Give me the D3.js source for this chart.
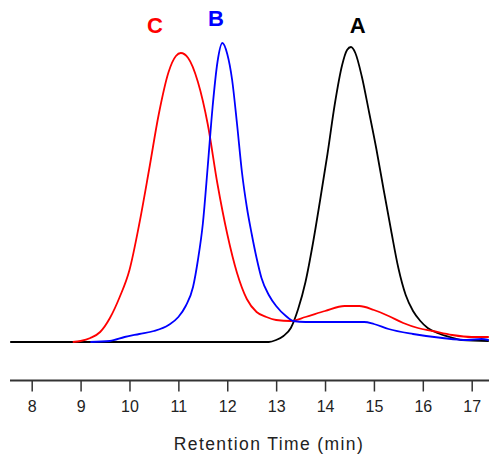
<!DOCTYPE html>
<html>
<head>
<meta charset="utf-8">
<script src="https://cdn.jsdelivr.net/npm/d3@7/dist/d3.min.js"></script>
<style>
  html, body { margin: 0; padding: 0; background: #fff; }
  svg { display: block; }
</style>
</head>
<body>
<svg id="chart" width="489" height="454"></svg>
<script>
// ---- data (retention time in min, detector response in arbitrary units) ----
const tickLabels = [8, 9, 10, 11, 12, 13, 14, 15, 16, 17];

const timeA = [7.56, 12.85, 13.0, 13.15, 13.3, 13.45, 13.6, 13.75, 13.9, 14.05, 14.2, 14.35, 14.45, 14.53, 14.62, 14.75, 14.9, 15.05, 15.2, 15.35, 15.5, 15.65, 15.8, 15.95, 16.1, 16.3, 16.55, 16.8, 17.35];
const valueA = [0, 0, 2, 6, 14, 33, 60, 98, 142, 188, 238, 277, 292, 295, 289, 266, 230, 193, 152, 112, 74, 47, 31, 21, 14, 9, 5, 2, 1];

const timeB = [9.2, 9.6, 9.9, 10.2, 10.5, 10.8, 11.0, 11.15, 11.3, 11.4, 11.5, 11.6, 11.7, 11.8, 11.9, 12.0, 12.1, 12.2, 12.3, 12.4, 12.5, 12.6, 12.7, 12.85, 13.0, 13.2, 13.35, 13.6, 14.0, 14.8, 15.0, 15.3, 15.8, 16.4, 16.9, 17.2, 17.35];
const valueB = [0, 1, 5, 8, 11, 17, 25, 36, 55, 82, 118, 175, 235, 280, 299, 288, 262, 218, 170, 135, 108, 84, 64, 47, 36, 26, 21, 20, 20, 20, 18, 13, 8, 4, 2, 3, 2];

const timeC = [8.84, 9.0, 9.2, 9.4, 9.6, 9.8, 10.0, 10.2, 10.4, 10.6, 10.8, 10.95, 11.05, 11.2, 11.4, 11.6, 11.8, 12.0, 12.2, 12.4, 12.6, 12.8, 13.0, 13.3, 13.6, 14.0, 14.4, 14.7, 15.0, 15.3, 15.6, 15.9, 16.2, 16.6, 17.0, 17.35];
const valueC = [0, 1, 4, 10, 24, 45, 72, 118, 172, 228, 270, 286, 289, 284, 260, 218, 158, 108, 69, 43, 30, 25, 22, 21, 25, 31, 36, 36, 32, 26, 19, 14, 11, 7, 5, 5];

const seriesNames = ["A", "B", "C"];
const seriesColors = ["#000000", "#0000ff", "#ff0000"];
const labelTimes = [14.67, 11.77, 10.52];
const labelValues = [309, 316, 309];

const xTitle = "Retention Time (min)";

// ---- drawing ----
const svg = d3.select("#chart");

const x = d3.scaleLinear().domain([8, 17]).range([31.7, 471.7]);
const y = d3.scaleLinear().domain([0, 300]).range([342, 42]);

const series = [
  { name: "C", t: timeC, v: valueC },
  { name: "B", t: timeB, v: valueB },
  { name: "A", t: timeA, v: valueA }
];

const line = d3.line()
  .x(d => x(d[0]))
  .y(d => y(d[1]))
  .curve(d3.curveMonotoneX);

const order = ["A", "C", "B"];
order.forEach(n => {
  const s = series.find(d => d.name === n);
  const idx = seriesNames.indexOf(n);
  svg.append("path")
    .datum(s.t.map((t, i) => [t, s.v[i]]))
    .attr("fill", "none")
    .attr("stroke", seriesColors[idx])
    .attr("stroke-width", 1.8)
    .attr("stroke-linejoin", "round")
    .attr("d", line);
});

// peak labels
seriesNames.forEach((n, i) => {
  svg.append("text")
    .attr("x", x(labelTimes[i]))
    .attr("y", y(labelValues[i]))
    .attr("text-anchor", "middle")
    .attr("font-family", "'Liberation Sans', Arial, sans-serif")
    .attr("font-weight", "bold")
    .attr("font-size", 22)
    .attr("fill", seriesColors[i])
    .text(n);
});

// x axis
const axisG = svg.append("g").attr("transform", "translate(0,380.5)");
const axis = d3.axisBottom(x)
  .tickValues(tickLabels)
  .tickSize(11)
  .tickPadding(9)
  .tickFormat(d3.format("d"));
axisG.call(axis);
axisG.select(".domain").remove();
axisG.append("line")
  .attr("x1", 10).attr("x2", 489)
  .attr("y1", 0).attr("y2", 0)
  .attr("stroke", "#333").attr("stroke-width", 2);
axisG.selectAll(".tick line").attr("stroke", "#333").attr("stroke-width", 1.5);
axisG.selectAll(".tick text")
  .attr("font-family", "'Liberation Sans', Arial, sans-serif")
  .attr("font-size", 16)
  .attr("fill", "#222");

svg.append("text")
  .attr("x", 269)
  .attr("y", 450)
  .attr("text-anchor", "middle")
  .attr("font-family", "'Liberation Sans', Arial, sans-serif")
  .attr("font-size", 17.5)
  .attr("letter-spacing", 1.4)
  .attr("fill", "#222")
  .text(xTitle);
</script>
</body>
</html>
